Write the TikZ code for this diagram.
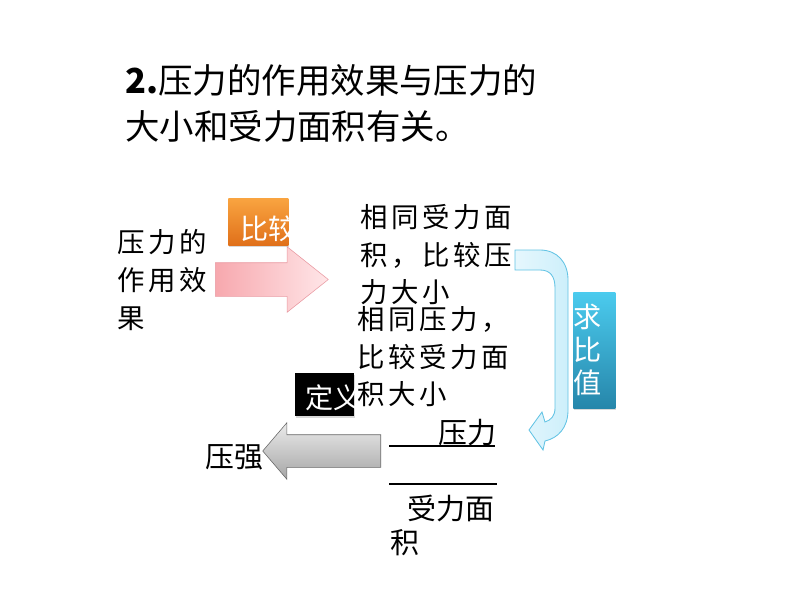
\documentclass[tikz,border=0pt]{standalone}
\usepackage{fontspec}
\setmainfont{Noto Sans CJK SC}
\newfontfamily\kaiwide[LetterSpace=13]{Noto Sans CJK SC}
\usepackage{tikz}
\usetikzlibrary{shapes.arrows,shadows}
\definecolor{cmpTop}{HTML}{F9A440}
\definecolor{cmpBot}{HTML}{E0701A}
\definecolor{ratioTop}{HTML}{4BCBEE}
\definecolor{ratioBot}{HTML}{2686AA}
\definecolor{pinkL}{HTML}{F7A8AE}
\definecolor{pinkR}{HTML}{FFE6E8}
\definecolor{pinkEdge}{HTML}{E99AA2}
\definecolor{flowFill}{HTML}{CDEFFB}
\definecolor{flowEdge}{HTML}{62C3E4}
\newcommand{\pxu}{0.025cm}
\tikzset{every node/.append style={inner sep=0pt}}
\tikzset{
  title/.style={anchor=west, align=left, font=\fontsize{24.5pt}{32.7pt}\selectfont},
  kai/.style={anchor=west, align=left, font=\kaiwide\fontsize{19.5pt}{26.7pt}\selectfont},
  plain/.style={anchor=west, font=\fontsize{20.6pt}{24.9pt}\selectfont},
  tag/.style={text=white, font=\fontsize{20pt}{23.5pt}\selectfont},
  box/.style={rectangle, anchor=north west},
  blockarrow/.style={single arrow, anchor=tail, minimum height=#1*\pxu}
}

\begin{document}
\begin{tikzpicture}[x=\pxu, y=-\pxu]
\useasboundingbox (0,0) rectangle (800,600);
\node[title] (head) at (125,103) {\textbf{2.}压力的作用效果与压力的\\大小和受力面积有关。};
\node[kai] (effect) at (117,280) {压力的\\作用效\\果};
\node[kai] (sameArea) at (360,255) {相同受力面\\积，比较压\\力大小};
\node[kai] (sameForce) at (357,357) {相同压力，\\比较受力面\\积大小};
% block arrows
\node[blockarrow=113, left color=pinkL, right color=pinkR, draw=pinkEdge,
  inner ysep=16.5*\pxu, single arrow head extend=16*\pxu, single arrow tip angle=77]
  (toCompare) at (215,279.5) {};
\node[blockarrow=118, top color=black!8, bottom color=black!35, draw=black!60,
  shape border rotate=180, inner ysep=16*\pxu, single arrow head extend=12*\pxu,
  single arrow tip angle=99] (toPressure) at (381,451) {};
\draw[flowEdge, left color=flowFill!50, right color=flowFill, line width=.6pt]
  (515,250) -- (540,250) .. controls (557,250) and (568,262) .. (568,280)
  -- (568,410) .. controls (568,428) and (558,438) .. (545,441)
  -- (543,450) -- (529,430) -- (542,412) -- (545,422)
  .. controls (551,420) and (555,416) .. (555,408)
  -- (555,288) .. controls (555,276) and (550,270) .. (540,270) -- (515,270) -- cycle;
% labelled boxes
\node[box, top color=cmpTop, bottom color=cmpBot, minimum width=60*\pxu, minimum height=47*\pxu,
  drop shadow={opacity=.3, shadow xshift=.8pt, shadow yshift=-1.2pt}] (cmp) at (228,198) {};
\begin{scope}
\clip (cmp.north west) rectangle (cmp.south east);
\node[tag, anchor=west] (cmpText) at (240,229) {比较};
\end{scope}
\node[box, fill=black, minimum width=59*\pxu, minimum height=43*\pxu,
  drop shadow={opacity=.3, shadow xshift=.8pt, shadow yshift=-1.2pt}] (def) at (295,373) {};
\begin{scope}
\clip (def.north west) rectangle (def.south east);
\node[tag, anchor=west] (defText) at (305,398) {定义};
\end{scope}
\node[box, top color=ratioTop, bottom color=ratioBot, minimum width=42*\pxu, minimum height=116*\pxu,
  drop shadow={opacity=.3, shadow xshift=.8pt, shadow yshift=-1.2pt}] (ratio) at (573,292) {};
\node[tag, align=center] (ratioText) at (588,350) {求\\比\\值};
% result and fraction
\node[plain] (pressure) at (205,457) {压强};
\node[plain] (num) at (438,433) {压力};
\node[plain] (den) at (407,508) {受力面};
\node[plain] (denTail) at (390,543) {积};
\draw[line width=1.4pt] (389,446) -- (495,446);
\draw[line width=1.8pt] (389,484) -- (437,484);
\draw[line width=1.1pt] (437,484) -- (497,484);
\end{tikzpicture}
\end{document}
